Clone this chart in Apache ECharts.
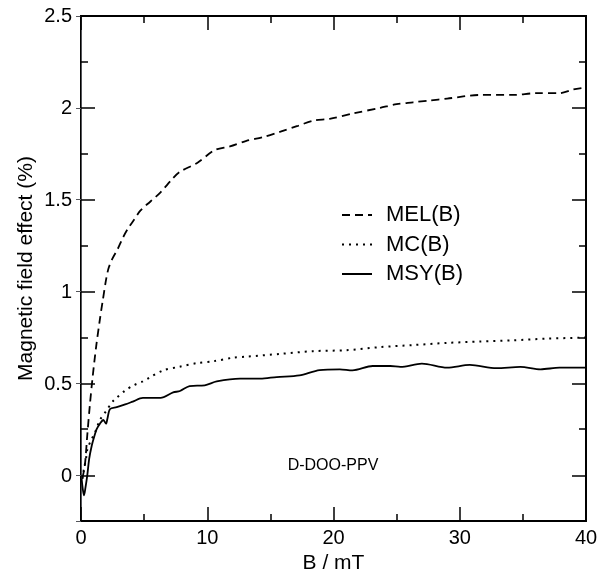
<!DOCTYPE html>
<html>
<head>
<meta charset="utf-8">
<script src="https://cdn.jsdelivr.net/npm/echarts@6/dist/echarts.min.js"></script>
<style>html,body{margin:0;padding:0;background:#fff}#c{width:608px;height:571px}</style>
</head>
<body>
<div id="c"></div>
<script>
const seriesNames = ['MEL(B)', 'MC(B)', 'MSY(B)'];
const melData = [[0.1,-0.02],[0.3,0.05],[0.5,0.22],[0.7,0.38],[0.9,0.52],[1.2,0.70],[1.5,0.85],[1.7,0.94],[2.0,1.07],[2.2,1.13],[2.5,1.18],[2.9,1.23],[3.3,1.29],[3.7,1.34],[4.2,1.39],[4.7,1.44],[5.5,1.49],[6.3,1.54],[7.2,1.61],[7.8,1.65],[9.2,1.70],[10.6,1.77],[11.8,1.79],[13.1,1.82],[14.4,1.84],[15.8,1.87],[17.1,1.90],[18.4,1.93],[19.7,1.94],[21.6,1.97],[23.7,2.00],[25.0,2.02],[26.3,2.03],[27.6,2.04],[29.0,2.05],[31.6,2.07],[34.2,2.07],[36.1,2.08],[37.9,2.08],[39.0,2.10],[40,2.11]];
const mcData = [[0.1,-0.02],[0.25,0.04],[0.4,0.09],[0.5,0.14],[0.8,0.19],[1.1,0.23],[1.5,0.30],[2.0,0.35],[2.5,0.40],[2.8,0.42],[3.5,0.46],[4.2,0.49],[4.9,0.51],[5.4,0.53],[6.5,0.57],[7.8,0.59],[9.2,0.61],[10.5,0.62],[12.1,0.64],[13.1,0.645],[15.8,0.66],[18.4,0.675],[21.0,0.68],[23.7,0.697],[26.3,0.708],[29.0,0.72],[31.6,0.727],[34.2,0.734],[36.9,0.743],[39.5,0.748],[40,0.75]];
const msyData = [[0.05,-0.02],[0.15,-0.08],[0.24,-0.11],[0.35,-0.07],[0.5,0.0],[0.65,0.09],[0.85,0.16],[1.05,0.21],[1.24,0.25],[1.5,0.28],[1.77,0.30],[1.98,0.28],[2.1,0.31],[2.3,0.36],[2.83,0.37],[3.5,0.385],[4.1,0.40],[4.9,0.42],[5.6,0.42],[6.3,0.42],[7.3,0.45],[7.84,0.458],[8.6,0.485],[9.8,0.489],[10.75,0.51],[12.6,0.525],[14.2,0.525],[15.5,0.534],[17.3,0.543],[18.9,0.572],[20.5,0.576],[21.5,0.57],[23.1,0.594],[24.5,0.594],[25.3,0.589],[27.0,0.607],[29.0,0.585],[30.8,0.6],[32.9,0.582],[34.8,0.589],[36.4,0.576],[37.9,0.585],[40,0.585]];
const yTickValues = [0, 0.5, 1, 1.5, 2, 2.5];
const yLabels = ['0', '0.5', '1', '1.5', '2', '2.5'];
const sampleLabel = 'D-DOO-PPV';
const xTitle = 'B / mT';
const yTitle = 'Magnetic field effect (%)';

const FONT = '"Liberation Sans", Arial, sans-serif';
const CLEAR = 'rgba(255,255,255,0)';
const chart = echarts.init(document.getElementById('c'), null, {renderer: 'canvas'});
function axLine() { return {show: true, onZero: false, lineStyle: {color: '#000', width: 2}}; }
function tick(len) { return {show: true, inside: true, length: len, lineStyle: {color: '#000', width: 1.5}}; }
function minorTick() { return {show: true, splitNumber: 2, length: 7, lineStyle: {color: '#000', width: 1.5}}; }
function yFmt(v) {
  const i = yTickValues.findIndex(t => Math.abs(t - v) < 1e-6);
  return i >= 0 ? yLabels[i] : '';
}
const plotRect = {left: 81, right: 22, top: 16, bottom: 50, outerBoundsMode: 'none'};
// grid 1 spans exactly the 0 .. 2.5 part of the plot (0 sits 45 px above the bottom edge)
const upperRect = {left: 81, right: 22, top: 16, bottom: 95, outerBoundsMode: 'none'};

function xTickAxis(gridIndex, pos) {
  return {gridIndex: gridIndex, type: 'value', min: 0, max: 40, interval: 10, position: pos,
    axisLine: {onZero: false, lineStyle: {color: '#000', width: 2}},
    axisTick: tick(14), minorTick: minorTick(),
    axisLabel: {show: false}, splitLine: {show: false}};
}
function yMinorAxis(pos, named) {
  const a = {gridIndex: 0, type: 'value', min: -0.25, max: 2.5, interval: 0.5, position: pos,
    axisLine: axLine(), axisTick: tick(7), splitLine: {show: false}, axisLabel: {show: false}};
  if (named) {
    a.name = yTitle; a.nameLocation = 'middle'; a.nameGap = 44;
    a.nameTextStyle = {fontFamily: FONT, fontSize: 21, color: '#000'};
  }
  return a;
}
function yMajorAxis(pos, labelled) {
  return {gridIndex: 1, type: 'value', min: 0, max: 2.5, interval: 0.5, position: pos,
    axisLine: axLine(), axisTick: tick(14), splitLine: {show: false},
    axisLabel: labelled ? {fontFamily: FONT, fontSize: 20, color: '#000', margin: 9, formatter: yFmt} : {show: false}};
}

chart.setOption({
  animation: false,
  backgroundColor: '#fff',
  grid: [plotRect, upperRect, Object.assign({}, plotRect)],
  xAxis: [
    {gridIndex: 0, type: 'value', min: 0, max: 40, interval: 10, position: 'bottom',
      axisLine: axLine(), axisTick: tick(14), minorTick: minorTick(), splitLine: {show: false},
      name: xTitle, nameLocation: 'middle', nameGap: 24,
      nameTextStyle: {fontFamily: FONT, fontSize: 21, color: '#000'},
      axisLabel: {fontFamily: FONT, fontSize: 20, color: '#000', margin: 7}},
    {gridIndex: 0, type: 'value', min: 0, max: 40, interval: 10, position: 'top',
      axisLine: axLine(), axisTick: tick(14), minorTick: minorTick(), splitLine: {show: false},
      axisLabel: {show: false}},
    {gridIndex: 1, type: 'value', min: 0, max: 40, show: false},
    xTickAxis(2, 'bottom'),
    xTickAxis(2, 'top')
  ],
  yAxis: [
    yMinorAxis('left', true),
    yMinorAxis('right', false),
    yMajorAxis('left', true),
    yMajorAxis('right', false),
    {gridIndex: 2, type: 'value', min: -0.25, max: 2.5,
      axisLabel: {show: false}, splitLine: {lineStyle: {color: CLEAR}}}
  ],
  legend: {
    left: 336, top: 199, orient: 'vertical', itemWidth: 30, itemHeight: 22, itemGap: 7.5,
    data: seriesNames,
    itemStyle: {opacity: 0},
    textStyle: {fontFamily: FONT, fontSize: 22, color: '#000', padding: [0, 0, 0, 9]}
  },
  graphic: [{
    type: 'text', x: 333, y: 466,
    style: {text: sampleLabel, font: '16px "Liberation Sans", Arial, sans-serif', fill: '#000', textAlign: 'center', textVerticalAlign: 'middle'}
  }],
  series: [
    {name: seriesNames[0], type: 'line', xAxisIndex: 0, yAxisIndex: 0, data: melData, showSymbol: false, symbol: 'none', smooth: 0.3,
      lineStyle: {color: '#000', width: 1.8, type: [8, 5]}, itemStyle: {color: '#000'}},
    {name: seriesNames[1], type: 'line', xAxisIndex: 0, yAxisIndex: 0, data: mcData, showSymbol: false, symbol: 'none', smooth: 0.3,
      lineStyle: {color: '#000', width: 2, type: [2, 5]}, itemStyle: {color: '#000'}},
    {name: seriesNames[2], type: 'line', xAxisIndex: 0, yAxisIndex: 0, data: msyData, showSymbol: false, symbol: 'none', smooth: 0.3,
      lineStyle: {color: '#000', width: 1.8}, itemStyle: {color: '#000'}}
  ]
});
</script>
</body>
</html>
